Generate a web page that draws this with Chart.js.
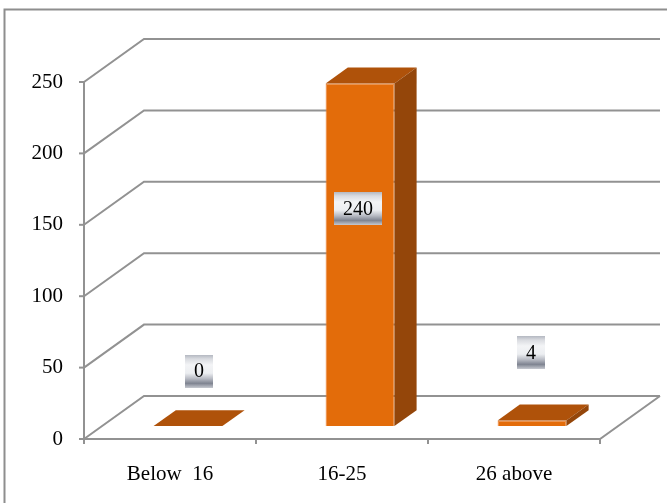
<!DOCTYPE html>
<html>
<head>
<meta charset="utf-8">
<script src="https://cdn.jsdelivr.net/npm/chart.js@4.4.1/dist/chart.umd.min.js"></script>
<style>
  html, body { margin: 0; padding: 0; background: #ffffff; overflow: hidden; }
  #wrap { position: relative; width: 667px; height: 503px; }
</style>
</head>
<body>
<div id="wrap"><canvas id="chart" width="667" height="503"></canvas></div>
<script>
// Age groups and respondent counts
const categories = ['Below  16', '16-25', '26 above'];
const counts = [0, 240, 4];
const yMax = 250;
const yStep = 50;

// Oblique projection of the depth axis (full floor depth, in pixels)
const DEPTH_X = 60;
const DEPTH_Y = -43;
// Bars occupy this slice of the floor depth
const BAR_FRONT = 0.30;
const BAR_BACK = 0.67;

const GRID_COLOR = '#929292';
const FRONT_COLOR = '#E36C0A';
const TOP_COLOR = '#AF520A';
const SIDE_COLOR = '#94460A';

const serif = '"Liberation Serif", "Times New Roman", serif';

const frame3d = {
  id: 'frame3d',
  beforeDraw(chart) {
    const ctx = chart.ctx;
    ctx.save();
    ctx.strokeStyle = '#8e8e8e';
    ctx.lineWidth = 2;
    ctx.beginPath();
    ctx.moveTo(4.5, chart.height);
    ctx.lineTo(4.5, 9.5);
    ctx.lineTo(chart.width, 9.5);
    ctx.stroke();
    ctx.restore();
  },
  beforeDatasetsDraw(chart) {
    const ctx = chart.ctx;
    const y = chart.scales.y;
    const left = chart.chartArea.left;
    const right = chart.chartArea.right;
    const bottom = y.getPixelForValue(0);
    ctx.save();
    ctx.strokeStyle = GRID_COLOR;
    ctx.lineWidth = 2;
    ctx.lineCap = 'butt';
    // walls: side diagonals and back horizontals for each value tick
    y.ticks.forEach(t => {
      const py = y.getPixelForValue(t.value);
      ctx.beginPath();
      ctx.moveTo(left, py);
      ctx.lineTo(left + DEPTH_X, py + DEPTH_Y);
      ctx.lineTo(right + DEPTH_X, py + DEPTH_Y);
      ctx.stroke();
      // tick mark on the value axis
      ctx.beginPath();
      ctx.moveTo(left - 5, py);
      ctx.lineTo(left, py);
      ctx.stroke();
    });
    // floor outline
    ctx.beginPath();
    ctx.moveTo(left, bottom);
    ctx.lineTo(right, bottom);
    ctx.lineTo(right + DEPTH_X, bottom + DEPTH_Y);
    ctx.stroke();
    // value axis
    ctx.beginPath();
    ctx.moveTo(left, y.getPixelForValue(yMax));
    ctx.lineTo(left, bottom);
    ctx.stroke();
    // category boundary ticks
    const n = categories.length;
    for (let i = 0; i <= n; i++) {
      const px = left + (right - left) * i / n;
      ctx.beginPath();
      ctx.moveTo(px, bottom);
      ctx.lineTo(px, bottom + 5);
      ctx.stroke();
    }
    ctx.restore();
  },
  beforeDatasetDraw(chart) {
    chart.ctx.save();
    chart.ctx.translate(BAR_FRONT * DEPTH_X, BAR_FRONT * DEPTH_Y);
  },
  afterDatasetDraw(chart) {
    chart.ctx.restore();
  },
  afterDatasetsDraw(chart, args, opts) {
    const ctx = chart.ctx;
    const meta = chart.getDatasetMeta(0);
    const ox = BAR_FRONT * DEPTH_X, oy = BAR_FRONT * DEPTH_Y;
    const dx = (BAR_BACK - BAR_FRONT) * DEPTH_X, dy = (BAR_BACK - BAR_FRONT) * DEPTH_Y;
    ctx.save();
    meta.data.forEach((bar) => {
      const p = bar.getProps(['x', 'y', 'base', 'width'], true);
      const L = p.x - p.width / 2 + ox;
      const R = p.x + p.width / 2 + ox;
      const T = Math.min(p.y, p.base) + oy;
      const B = Math.max(p.y, p.base) + oy;
      // top face
      ctx.fillStyle = TOP_COLOR;
      ctx.beginPath();
      ctx.moveTo(L, T);
      ctx.lineTo(R, T);
      ctx.lineTo(R + dx, T + dy);
      ctx.lineTo(L + dx, T + dy);
      ctx.closePath();
      ctx.fill();
      // right side face
      if (B - T > 0.5) {
        ctx.fillStyle = SIDE_COLOR;
        ctx.beginPath();
        ctx.moveTo(R, T);
        ctx.lineTo(R + dx, T + dy);
        ctx.lineTo(R + dx, B + dy);
        ctx.lineTo(R, B);
        ctx.closePath();
        ctx.fill();
      }
    });
    // value labels on metallic plates
    ctx.font = '20px ' + serif;
    ctx.textAlign = 'center';
    ctx.textBaseline = 'middle';
    meta.data.forEach((bar, i) => {
      const p = bar.getProps(['x', 'y'], true);
      const off = opts.labelOffsets[i];
      const cx = p.x + ox + off.dx;
      const cy = p.y + oy + off.dy;
      const text = String(counts[i]);
      const w = ctx.measureText(text).width + 18;
      const h = 33;
      const x0 = Math.round(cx - w / 2), y0 = Math.round(cy - h / 2);
      const g = ctx.createLinearGradient(0, y0, 0, y0 + h);
      g.addColorStop(0, '#b4b8c1');
      g.addColorStop(0.12, '#d9dbe0');
      g.addColorStop(0.3, '#f3f4f6');
      g.addColorStop(0.55, '#eceef1');
      g.addColorStop(0.72, '#b7bac3');
      g.addColorStop(0.86, '#7f8491');
      g.addColorStop(1, '#c6c9d0');
      ctx.fillStyle = g;
      ctx.fillRect(x0, y0, Math.round(w), h);
      ctx.fillStyle = '#000000';
      ctx.fillText(text, cx, cy + 1);
    });
    ctx.restore();
  }
};

new Chart(document.getElementById('chart'), {
  type: 'bar',
  data: {
    labels: categories,
    datasets: [{
      data: counts,
      backgroundColor: FRONT_COLOR,
      borderColor: '#EA7E2E',
      borderWidth: 1,
      barPercentage: 0.4,
      categoryPercentage: 1.0
    }]
  },
  options: {
    responsive: false,
    animation: false,
    events: [],
    layout: { padding: { top: 82, right: 67, bottom: 0, left: 0 } },
    plugins: {
      legend: { display: false },
      tooltip: { enabled: false },
      frame3d: {
        labelOffsets: [
          { dx: 11, dy: -55 },
          { dx: -2, dy: 125 },
          { dx: -1, dy: -68 }
        ]
      }
    },
    scales: {
      x: {
        grid: { display: false, drawTicks: false },
        border: { display: false },
        ticks: { color: '#000000', font: { family: serif, size: 21 }, padding: 23, maxRotation: 0 },
        afterFit(scale) { scale.height = 64; }
      },
      y: {
        min: 0,
        max: yMax,
        grid: { display: false, drawTicks: false },
        border: { display: false },
        ticks: { stepSize: yStep, color: '#000000', font: { family: serif, size: 21 }, padding: 21 },
        afterFit(scale) { scale.width = 84; }
      }
    }
  },
  plugins: [frame3d]
});
</script>
</body>
</html>
